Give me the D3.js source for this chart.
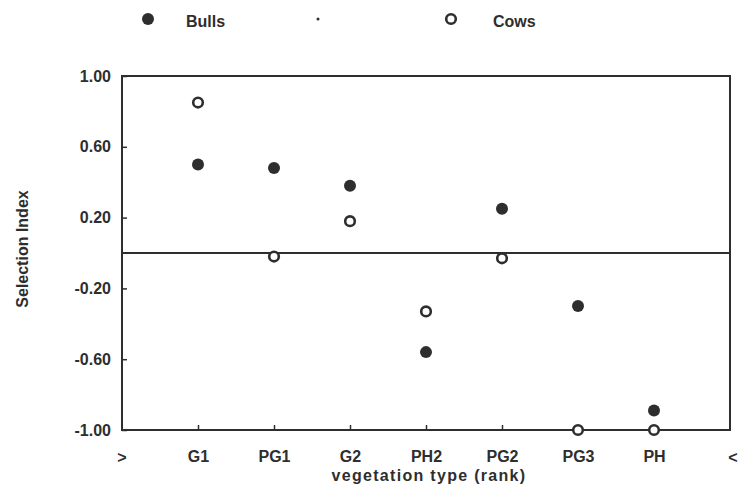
<!DOCTYPE html>
<html>
<head>
<meta charset="utf-8">
<script src="https://cdn.jsdelivr.net/npm/d3@7"></script>
<style>
  body { margin: 0; background: #fff; }
  text { font-family: "Liberation Sans", Arial, sans-serif; font-weight: bold; fill: #2e2e2e; }
</style>
</head>
<body>
<svg id="chart" width="742" height="494"></svg>
<script>
const width = 742;
const height = 494;

/* DATA */
const categories = ["G1", "PG1", "G2", "PH2", "PG2", "PG3", "PH"];
const bulls = [0.50, 0.48, 0.38, -0.56, 0.25, -0.30, -0.89];
const cows = [0.85, -0.02, 0.18, -0.33, -0.03, -1.00, -1.00];
const yTicks = [1.00, 0.60, 0.20, -0.20, -0.60, -1.00];

const margin = { top: 76, bottom: 64, left: 122, right: 12 };

const svg = d3.select("svg#chart");
const plot = svg.append("g").attr("transform", translate(margin.left, margin.top));

/* SCALES */
// position 0 is the left axis, categories sit at 1..7, 8 is the right border
const x = d3.scaleLinear().domain([0, categories.length + 1]).range([0, 608]);
const y = d3.scaleLinear().domain([-1, 1]).range([354, 0]);

const ink = "#2e2e2e";
const fontSize = 16;

/* FRAME */
plot.append("rect")
  .attr("x", 0).attr("y", 0)
  .attr("width", x(categories.length + 1)).attr("height", y(-1))
  .attr("fill", "none").attr("stroke", ink).attr("stroke-width", 2);

plot.append("line")
  .attr("x1", 0).attr("x2", x(categories.length + 1))
  .attr("y1", y(0)).attr("y2", y(0))
  .attr("stroke", ink).attr("stroke-width", 2);

/* Y AXIS */
const yAxis = d3.axisLeft(y).tickValues(yTicks).tickSize(-5).tickPadding(11)
  .tickFormat(d => d3.format(".2f")(d).replace("\u2212", "-")).tickSizeOuter(0);
const yGroup = plot.append("g").call(yAxis);
yGroup.select(".domain").remove();
yGroup.selectAll("line").attr("stroke", ink).attr("stroke-width", 1.5);
yGroup.selectAll("text").attr("font-size", fontSize).attr("fill", ink)
  .style("font-family", "Liberation Sans, Arial, sans-serif").style("font-weight", "bold");

/* X AXIS */
const xAxis = d3.axisBottom(x).tickValues(d3.range(1, categories.length + 1))
  .tickSize(-5).tickPadding(21).tickFormat(i => categories[i - 1]).tickSizeOuter(0);
const xGroup = plot.append("g").attr("transform", translate(0, y(-1))).call(xAxis);
xGroup.select(".domain").remove();
xGroup.selectAll("line").attr("stroke", ink).attr("stroke-width", 1.5);
xGroup.selectAll("text").attr("font-size", fontSize).attr("fill", ink)
  .style("font-family", "Liberation Sans, Arial, sans-serif").style("font-weight", "bold");

plot.append("text").attr("x", x(0)).attr("y", y(-1) + 33)
  .attr("text-anchor", "middle").attr("font-size", fontSize).text(">");
plot.append("text").attr("x", x(categories.length + 1) + 3).attr("y", y(-1) + 33)
  .attr("text-anchor", "middle").attr("font-size", fontSize).text("<");

/* TITLES */
svg.append("text")
  .attr("transform", translate(28, margin.top + y(0) - 4) + " rotate(-90)")
  .attr("text-anchor", "middle").attr("font-size", fontSize)
  .text("Selection Index");

svg.append("text")
  .attr("x", 429).attr("y", 481)
  .attr("text-anchor", "middle").attr("font-size", fontSize)
  .attr("letter-spacing", 1.3)
  .text("vegetation type (rank)");

/* POINTS */
plot.selectAll("circle.bulls")
  .data(bulls).enter().append("circle")
  .attr("class", "bulls")
  .attr("cx", (d, i) => x(i + 1)).attr("cy", d => y(d))
  .attr("r", 6).attr("fill", ink);

plot.selectAll("circle.cows")
  .data(cows).enter().append("circle")
  .attr("class", "cows")
  .attr("cx", (d, i) => x(i + 1)).attr("cy", d => y(d))
  .attr("r", 4.8).attr("fill", "#fff").attr("stroke", ink).attr("stroke-width", 2.6);

/* LEGEND */
const legend = svg.append("g");
legend.append("circle").attr("cx", 148).attr("cy", 19).attr("r", 6).attr("fill", ink);
legend.append("text").attr("x", 186).attr("y", 27).attr("font-size", fontSize).text("Bulls");
legend.append("circle").attr("cx", 318).attr("cy", 19).attr("r", 1.5).attr("fill", ink);
legend.append("circle").attr("cx", 451).attr("cy", 19).attr("r", 4.8)
  .attr("fill", "#fff").attr("stroke", ink).attr("stroke-width", 2.6);
legend.append("text").attr("x", 493).attr("y", 27).attr("font-size", fontSize).text("Cows");

function translate(a, b) {
  return "translate(" + String(a) + "," + String(b) + ")";
}
</script>
</body>
</html>
